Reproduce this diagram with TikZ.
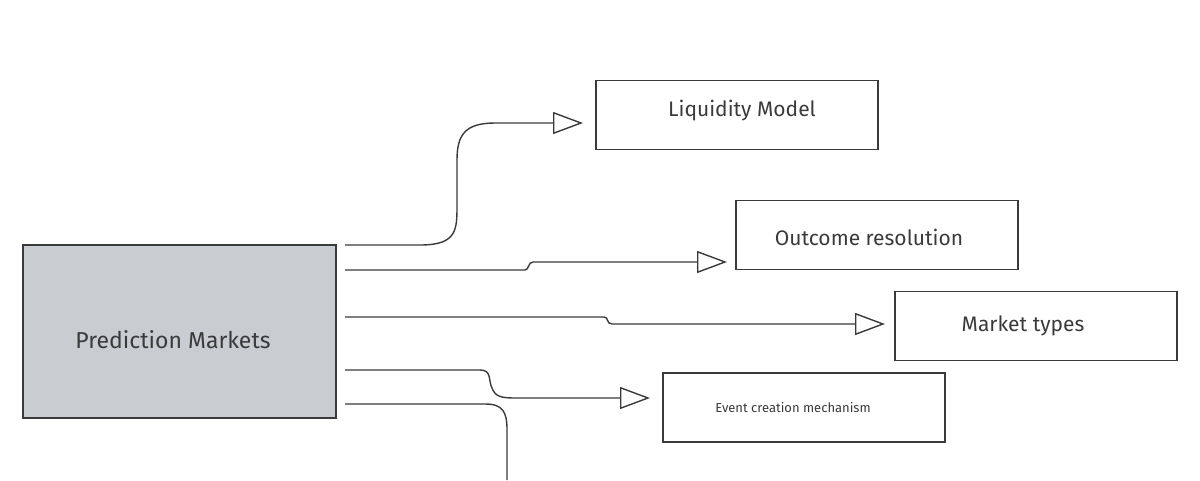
\documentclass[tikz,border=0pt]{standalone}
\usepackage{fontspec}
\setmainfont{Fira Sans}
\usetikzlibrary{arrows.meta}
\definecolor{boxgray}{HTML}{C9CCD1}
\definecolor{ink}{HTML}{3A3A3A}
\begin{document}
\begin{tikzpicture}[x=1pt,y=-1pt,
  box/.style={draw=ink,line width=1.4pt,minimum width=282pt,minimum height=69pt,inner sep=0pt},
  lbl/.style={text=ink,inner sep=0pt,font=\fontsize{21}{24}\selectfont},
  conn/.style={draw=ink,line width=1.4pt,-{Triangle[open,length=30pt,width=22pt,line width=1.4pt]}},
  plain/.style={draw=ink,line width=1.4pt}]
\useasboundingbox (0,0) rectangle (1200,480);
\node[box,fill=boxgray,minimum width=313pt,minimum height=173pt] (pm) at (179.5,331.5) {};
\node[lbl,font=\fontsize{23}{26}\selectfont] (pmt) at (173,340) {Prediction Markets};
\node[box] (lm) at (737,115) {};
\node[lbl] (lmt) at (742,111) {Liquidity Model};
\node[box] (or) at (877,235) {};
\node[lbl] (ort) at (869,237) {Outcome resolution};
\node[box] (mt) at (1036,326) {};
\node[lbl] (mtt) at (1023,326) {Market types};
\node[box] (ec) at (804,407.5) {};
\node[lbl,font=\fontsize{13}{15}\selectfont] (ect) at (793,408) {Event creation mechanism};
\coordinate (s1) at (345,245); \coordinate (t1) at (583,123);
\coordinate (s2) at (345,270); \coordinate (t2) at (727,262);
\coordinate (s3) at (345,317); \coordinate (t3) at (885,324);
\coordinate (s4) at (345,370); \coordinate (t4) at (650,398);
\coordinate (s5) at (345,404); \coordinate (t5) at (507,480);
\draw[conn] (s1) -- (420,245) .. controls (457,245) and (457,230) .. (457,205) -- (457,160) .. controls (457,135) and (465,123) .. (495,123) -- (t1);
\draw[conn] (s2) -- (525,270) .. controls (529,270) and (528,262) .. (533,262) -- (t2);
\draw[conn] (s3) -- (604,317) .. controls (609,317) and (606,324) .. (612,324) -- (t3);
\draw[conn] (s4) -- (480,370) .. controls (492,370) and (488,380) .. (492,388) .. controls (495,396) and (500,398) .. (515,398) -- (t4);
\draw[plain] (s5) -- (485,404) .. controls (503,404) and (507,412) .. (507,430) -- (t5);
\end{tikzpicture}
\end{document}
